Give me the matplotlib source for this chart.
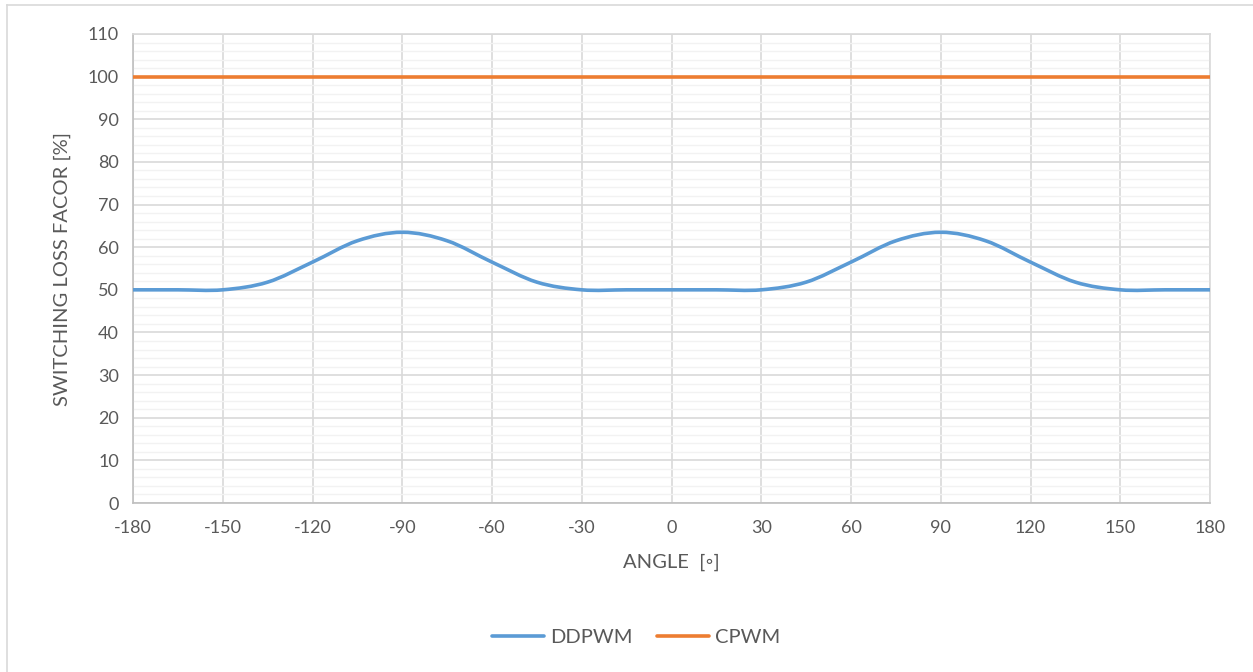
import numpy as np
import matplotlib
matplotlib.use('Agg')
import matplotlib.pyplot as plt
from matplotlib.path import Path
from matplotlib.patches import PathPatch
from matplotlib.lines import Line2D

plt.rcParams['font.family'] = ['Lato', 'DejaVu Sans']
plt.rcParams['axes.unicode_minus'] = False

angles = [-180, -165, -150, -135, -120, -105, -90, -75, -60, -45, -30, -15, 0,
          15, 30, 45, 60, 75, 90, 105, 120, 135, 150, 165, 180]
ddpwm = [50, 50, 50, 51.8, 56.5, 61.5, 63.5, 61.5, 56.5, 51.8, 50, 50, 50,
         50, 50, 51.8, 56.5, 61.5, 63.5, 61.5, 56.5, 51.8, 50, 50, 50]
cpwm = [100] * len(angles)

blue = '#5b9bd5'
orange = '#ed7d31'
txt = '#595959'


def smooth_path(x, y):
    # excel-like smoothed line: cubic bezier segments, catmull-rom tangents
    x = np.asarray(x, float)
    y = np.asarray(y, float)
    verts = [(x[0], y[0])]
    codes = [Path.MOVETO]
    n = len(x)
    for i in range(n - 1):
        x0, y0 = (x[i - 1], y[i - 1]) if i > 0 else (x[i], y[i])
        x3, y3 = (x[i + 2], y[i + 2]) if i + 2 < n else (x[i + 1], y[i + 1])
        c1 = (x[i] + (x[i + 1] - x0) / 6, y[i] + (y[i + 1] - y0) / 6)
        c2 = (x[i + 1] - (x3 - x[i]) / 6, y[i + 1] - (y3 - y[i]) / 6)
        verts += [c1, c2, (x[i + 1], y[i + 1])]
        codes += [Path.CURVE4] * 3
    return Path(verts, codes)


fig = plt.figure(figsize=(12.53, 6.72), dpi=100)
ax = fig.add_axes([133 / 1253, 1 - 503 / 672, (1210 - 133) / 1253, (503 - 34) / 672])

ax.add_patch(PathPatch(smooth_path(angles, ddpwm), facecolor='none',
                       edgecolor=blue, lw=2.6, capstyle='round', zorder=3))
ax.plot(angles, cpwm, color=orange, lw=2.6, zorder=3)

ax.set_xlim(-180, 180)
ax.set_ylim(0, 110)
ax.set_xticks(range(-180, 181, 30))
ax.set_yticks(range(0, 111, 10))
ax.set_yticks(range(0, 111, 2), minor=True)
ax.grid(True, which='major', color='#d9d9d9', lw=1.2)
ax.grid(True, which='minor', axis='y', color='#f2f2f2', lw=1.0)
ax.set_axisbelow(True)
for s in ax.spines.values():
    s.set_color('#d9d9d9')
    s.set_linewidth(1.2)
ax.spines['left'].set_color('#bfbfbf')
ax.spines['bottom'].set_color('#bfbfbf')
ax.tick_params(which='both', length=0, labelsize=13, labelcolor=txt)
ax.tick_params(axis='x', pad=12)
ax.tick_params(axis='y', pad=10)

ax.set_xlabel('ANGLE  [◦]', fontsize=14.5, color=txt, labelpad=13)
ax.set_ylabel('SWITCHING LOSS FACOR [%]', fontsize=14.5, color=txt, labelpad=12)

handles = [Line2D([], [], color=blue, lw=2.6, solid_capstyle='round'),
           Line2D([], [], color=orange, lw=2.6, solid_capstyle='round')]
fig.legend(handles, ['DDPWM', 'CPWM'], loc='center', bbox_to_anchor=(636 / 1253, 1 - 637 / 672),
           ncol=2, frameon=False, fontsize=14.5, labelcolor=txt, handlelength=2.6,
           columnspacing=1.2, handletextpad=0.3)

# chart frame
fig.add_artist(Line2D([7 / 1253, 7 / 1253], [0, 1 - 5 / 672], transform=fig.transFigure,
                      color='#d9d9d9', lw=1.2))
fig.add_artist(Line2D([7 / 1253, 1], [1 - 5 / 672, 1 - 5 / 672], transform=fig.transFigure,
                      color='#d9d9d9', lw=1.2))

fig.savefig('out.png', dpi=100)
